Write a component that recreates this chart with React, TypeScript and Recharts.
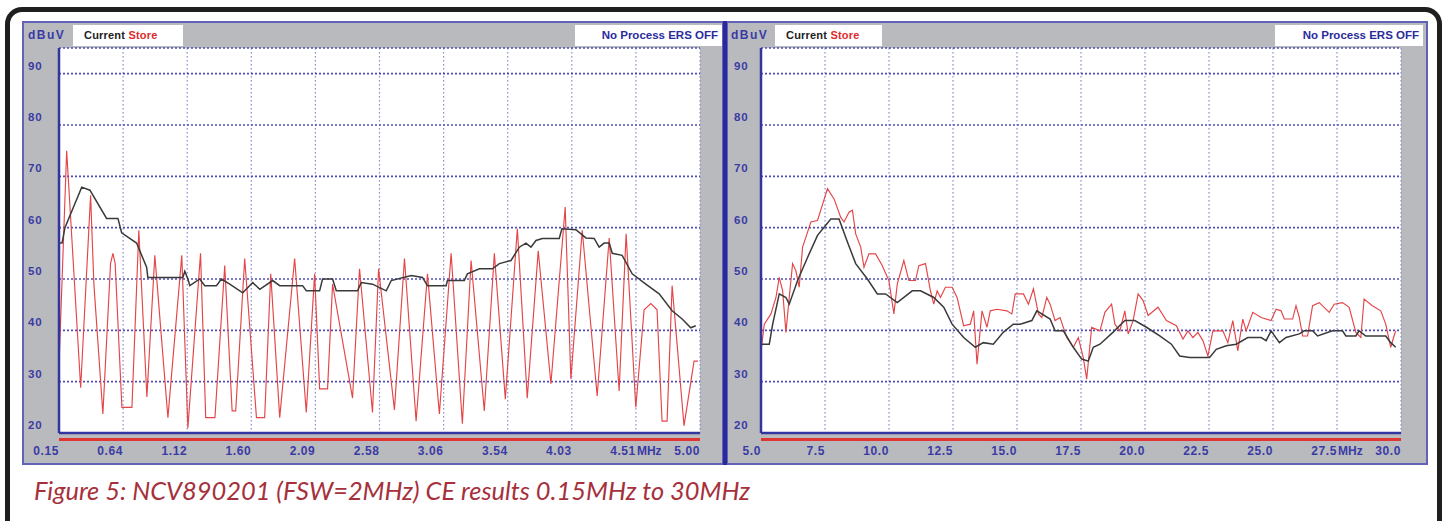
import React from "react";
import { LineChart, Line, XAxis, YAxis, CartesianGrid } from "recharts";

// frequency in MHz, level in dBuV
const leftStore: [number, number][] = [
  [0.15, 33], [0.208, 75], [0.314, 28.8], [0.389, 66.3], [0.414, 49], [0.482, 23.7], [0.54, 53], [0.558, 55],
  [0.575, 53], [0.626, 25], [0.702, 25],
  [0.754, 59.5], [0.815, 27], [0.875, 54.6], [0.974, 23], [1.079, 54.6], [1.125, 21], [1.221, 55], [1.26, 23],
  [1.33, 23], [1.404, 52.6], [1.46, 24.3], [1.487, 24.3], [1.555, 54], [1.644, 23], [1.706, 23], [1.752, 51], [1.82, 23],
  [1.933, 54], [2.021, 24], [2.084, 51], [2.122, 28.6], [2.182, 28.6], [2.22, 49], [2.371, 26.8], [2.424, 52],
  [2.522, 24], [2.568, 52], [2.688, 24.5], [2.764, 54], [2.852, 22.3], [2.938, 51], [3.028, 23.7], [3.117, 55],
  [3.202, 21.8], [3.268, 53.6], [3.368, 24.3], [3.444, 55], [3.527, 26.6], [3.618, 59.8], [3.693, 26.8],
  [3.776, 55.5], [3.872, 29.6], [3.98, 64], [4.023, 30.5], [4.109, 59.5], [4.222, 27.2], [4.313, 58],
  [4.388, 28.2], [4.441, 58.8], [4.514, 25], [4.577, 44], [4.628, 45.2], [4.675, 44], [4.713, 22.3],
  [4.751, 22.3], [4.789, 48.7], [4.879, 21.4], [4.955, 34], [4.985, 34],
];

const leftCurrent: [number, number][] = [
  [0.15, 57], [0.173, 57], [0.195, 60], [0.322, 67.9], [0.384, 67.3], [0.51, 61.8], [0.596, 61.8], [0.624, 59],
  [0.737, 57], [0.813, 52.3], [0.822, 50.3], [1.087, 50.3], [1.102, 51.5], [1.125, 50], [1.14, 48.7], [1.215, 50],
  [1.253, 48.7], [1.341, 48.7], [1.379, 50], [1.442, 49], [1.54, 47.3], [1.616, 49.3], [1.669, 48], [1.767, 49.7],
  [1.82, 48.7], [1.993, 48.7], [2.021, 47.7], [2.122, 47.7], [2.144, 50], [2.22, 50], [2.248, 47.7], [2.409, 47.7],
  [2.437, 49.3], [2.522, 49], [2.626, 47.7], [2.664, 49.7], [2.815, 50.7], [2.9, 50.3], [2.938, 48.7], [3.079, 48.7],
  [3.089, 49.7], [3.217, 49.7], [3.24, 51], [3.331, 52], [3.429, 52], [3.482, 53], [3.57, 53.6], [3.633, 56.2],
  [3.683, 57], [3.721, 56.2], [3.759, 57.5], [3.807, 57.9], [3.935, 57.9], [3.955, 59.8], [4.061, 59.6],
  [4.137, 58], [4.199, 57.9], [4.237, 56.2], [4.275, 57], [4.313, 57], [4.336, 55], [4.411, 54.6], [4.487, 51],
  [4.59, 49], [4.691, 47.1], [4.789, 43.8], [4.865, 42.2], [4.93, 40.5], [4.968, 40.9],
];

const rightStore: [number, number][] = [
  [5.0, 36], [5.129, 41.2], [5.389, 43.2], [5.584, 46.4], [5.713, 50.3], [5.845, 47.7], [5.974, 39.6], [6.102, 46.4],
  [6.234, 53], [6.363, 51.6], [6.491, 48.4], [6.624, 56.2], [6.752, 58.1], [6.947, 61.1], [7.208, 61.4], [7.597, 67.6],
  [7.854, 65.6], [8.115, 62], [8.244, 61.1], [8.438, 63], [8.571, 63.4], [8.699, 58.8], [8.894, 56.2], [9.023, 52.3],
  [9.217, 54.9], [9.478, 54.9], [9.739, 52.6], [9.996, 49.7], [10.191, 43.2], [10.323, 49], [10.58, 53.6],
  [10.775, 49.7], [11.036, 49.7], [11.164, 52.6], [11.425, 53], [11.62, 47.7], [11.748, 45.1], [11.881, 47.7],
  [12.009, 46.4], [12.204, 48.4], [12.465, 48.4], [12.659, 46.4], [12.916, 40.9], [13.177, 41.2], [13.306, 43.8],
  [13.438, 33.4], [13.633, 43.8], [13.828, 40.6], [13.956, 43.8], [14.217, 44.1], [14.607, 43.8], [14.801, 43.2],
  [14.93, 47.1], [15.253, 47.1], [15.448, 45.1], [15.642, 48.1], [15.837, 43.2], [15.969, 42.5], [16.164, 46.4],
  [16.293, 45.1], [16.487, 41.9], [16.682, 42.5], [16.943, 38.6], [17.2, 36.7], [17.395, 38.6], [17.59, 34.7],
  [17.722, 30.5], [17.917, 40.6], [18.24, 39.9], [18.434, 43.5], [18.695, 45.1], [18.824, 41.2], [19.018, 39.9],
  [19.213, 43.8], [19.342, 39.3], [19.536, 41.9], [19.731, 47.1], [19.926, 45.8], [20.121, 42.9], [20.51, 44.5],
  [20.837, 41.9], [21.226, 40.9], [21.483, 38.3], [21.678, 39.9], [21.873, 38.6], [22.067, 39.6], [22.262, 38],
  [22.457, 35], [22.652, 39.9], [23.041, 39.9], [23.236, 37.6], [23.43, 41.9], [23.625, 36], [23.82, 42.2],
  [23.952, 39.9], [24.209, 43.5], [24.536, 42.5], [24.926, 41.9], [25.12, 44.1], [25.315, 43.8], [25.444, 42.2],
  [25.767, 42.2], [25.899, 44.8], [26.028, 42.5], [26.156, 38.9], [26.351, 38.9], [26.546, 44.8], [26.807, 45.4],
  [27.196, 43.5], [27.391, 45.1], [27.714, 45.4], [27.975, 44.5], [28.236, 39.6], [28.431, 38.6], [28.559, 46.1],
  [28.882, 44.8], [29.21, 43.8], [29.404, 41.2], [29.599, 36.7], [29.728, 38.9], [29.794, 39.9],
];

const rightCurrent: [number, number][] = [
  [5.0, 37.3], [5.323, 37.3], [5.456, 41.2], [5.713, 47.1], [5.974, 46.4], [6.102, 45.1], [6.429, 49.7],
  [6.818, 54.2], [7.208, 58.5], [7.726, 61.7], [8.049, 61.7], [8.376, 57.2], [8.699, 53], [9.155, 50],
  [9.544, 47.1], [9.868, 47.1], [10.323, 45.4], [10.907, 47.7], [11.23, 47.7], [11.748, 46.4], [12.138, 44.5],
  [12.465, 41.2], [12.916, 38.6], [13.372, 36.7], [13.684, 37.6], [14.074, 37.3], [14.463, 39.6], [14.853, 41.2],
  [15.124, 41.2], [15.58, 41.9], [15.774, 43.8], [16.293, 42.2], [16.487, 39.9], [16.811, 39.9], [17.2, 36.7],
  [17.527, 34.4], [17.785, 34], [17.979, 36.7], [18.24, 37.3], [18.746, 39.6], [19.213, 41.9], [19.602, 41.9],
  [20.058, 40.6], [20.576, 38.9], [21.031, 37.3], [21.355, 35], [21.744, 34.7], [22.523, 34.7], [22.784, 36.3],
  [23.173, 37], [23.563, 37.3], [24.014, 38.6], [24.536, 38.6], [24.731, 38], [24.926, 39.9], [25.249, 37.6],
  [25.51, 38.6], [26.028, 39.3], [26.223, 39.9], [26.546, 39.9], [26.741, 38.9], [27.325, 39.9], [27.714, 39.9],
  [27.847, 38.9], [28.236, 38.9], [28.364, 39.9], [28.625, 38.9], [29.404, 38.9], [29.599, 37.6], [29.794, 36.7],
];

const leftTicks = [0.15, 0.635, 1.12, 1.605, 2.09, 2.575, 3.06, 3.545, 4.03, 4.515, 5.0];
const leftTickLabels = ["0.15", "0.64", "1.12", "1.60", "2.09", "2.58", "3.06", "3.54", "4.03", "4.51", "5.00"];
const rightTicks = [5, 7.5, 10, 12.5, 15, 17.5, 20, 22.5, 25, 27.5, 30];
const rightTickLabels = ["5.0", "7.5", "10.0", "12.5", "15.0", "17.5", "20.0", "22.5", "25.0", "27.5", "30.0"];
const levelTicks = [20, 30, 40, 50, 60, 70, 80, 90];

const unitLabel = "dBuV";
const captionText = "Figure 5: NCV890201 (FSW=2MHz) CE results 0.15MHz to 30MHz";

const toRows = (pts: [number, number][]) => pts.map(([f, v]) => ({ f, v }));

const BLUE = "#34349f";
const LABEL = "#3b3ba6";
const GRAY = "#b9babd";
const RED = "#e44548";
const labelFont = "'Liberation Sans', Arial, sans-serif";

function Panel({ left, width, domain, ticks, tickLabels, store, current, yLabelX, yAxisW, rightM }: any) {
  const xTick = (p: any) => {
    const i = ticks.indexOf(p.payload.value);
    const label = tickLabels[i];
    return (
      <g>
        <text x={p.x} y={p.y + 22} textAnchor="end" fontSize={12} fontWeight={700} fill={LABEL}
          fontFamily={labelFont} letterSpacing={0.6}>{label}</text>
        {i === ticks.length - 2 && (
          <text x={p.x + 1} y={p.y + 22} textAnchor="start" fontSize={12} fontWeight={700} fill={LABEL}
            fontFamily={labelFont}>MHz</text>
        )}
      </g>
    );
  };
  const yTick = (p: any) => (
    <text x={yLabelX} y={p.y - 8} dominantBaseline="central" fontSize={11.5} fontWeight={700} fill={LABEL}
      fontFamily={labelFont} letterSpacing={0.8}>{p.payload.value}</text>
  );
  return (
    <div style={{ position: "absolute", left, top: 21 }}>
      <LineChart width={width} height={443} margin={{ top: 27, right: rightM, bottom: 0, left: 0 }}>
        <CartesianGrid horizontal={false} stroke="#8a8ad0" strokeDasharray="1.5 2.5" strokeWidth={1.2} />
        <CartesianGrid vertical={false} stroke="#4d4db8" strokeDasharray="2 2" strokeWidth={1.6} />
        <XAxis dataKey="f" type="number" domain={domain} ticks={ticks} tick={xTick} tickLine={false}
          tickSize={0} tickMargin={0} height={31} allowDataOverflow
          axisLine={{ stroke: BLUE, strokeWidth: 2.5 }} />
        <XAxis xAxisId="top" orientation="top" type="number" domain={domain} height={0} tick={false}
          tickLine={false} axisLine={{ stroke: BLUE, strokeWidth: 2.5 }} />
        <YAxis type="number" domain={[20, 95]} ticks={levelTicks} tick={yTick} tickLine={false} width={yAxisW}
          allowDataOverflow axisLine={{ stroke: BLUE, strokeWidth: 2.5 }} />
        <YAxis yAxisId="right" orientation="right" type="number" domain={[20, 95]} width={0} tick={false}
          tickLine={false} axisLine={{ stroke: BLUE, strokeWidth: 2.5 }} />
        <Line data={toRows(store)} dataKey="v" type="linear" stroke={RED} strokeWidth={1.15} dot={false}
          isAnimationActive={false} />
        <Line data={toRows(current)} dataKey="v" type="linear" stroke="#3a3a3a" strokeWidth={1.5} dot={false}
          isAnimationActive={false} />
      </LineChart>
    </div>
  );
}

function Header({ left, boxLeft, boxW, npLeft, npW }: any) {
  const txt: React.CSSProperties = { fontFamily: labelFont, fontWeight: 700, fontSize: 11 };
  return (
    <>
      <div style={{ ...txt, fontSize: 12, letterSpacing: 1.5, position: "absolute", left, top: 28, color: LABEL }}>
        {unitLabel}
      </div>
      <div style={{ position: "absolute", left: boxLeft, top: 25, width: boxW, height: 21, background: "#fff" }}>
        <span style={{ ...txt, position: "absolute", left: 11, top: 4, letterSpacing: 0.2 }}>
          <span style={{ color: "#222" }}>Current </span>
          <span style={{ color: "#e02a2a" }}>Store</span>
        </span>
      </div>
      <div style={{ position: "absolute", left: npLeft, top: 25, width: npW, height: 21, background: "#fff" }}>
        <span style={{ ...txt, fontSize: 11.5, position: "absolute", right: 4, top: 4, color: "#2b2b9c" }}>
          No Process ERS OFF
        </span>
      </div>
    </>
  );
}

export default function App() {
  return (
    <div style={{ position: "relative", width: 1448, height: 521, overflow: "hidden", background: "#fff" }}>
      <style>{`body{margin:0}`}</style>
      <div style={{ position: "absolute", left: 5, top: 7, width: 1437, height: 540, boxSizing: "border-box",
        border: "5px solid #1f1f1f", borderRadius: 17 }} />
      {/* panels */}
      <div style={{ position: "absolute", left: 22, top: 21, width: 702, height: 444, boxSizing: "border-box",
        background: GRAY, border: "2px solid #6262b8" }} />
      <div style={{ position: "absolute", left: 726, top: 21, width: 702, height: 444, boxSizing: "border-box",
        background: GRAY, border: "2px solid #6262b8" }} />
      <div style={{ position: "absolute", left: 723, top: 21, width: 4, height: 444, background: "#2a2a9a" }} />
      <Header left={28} boxLeft={73} boxW={110} npLeft={575} npW={147} />
      <Header left={731} boxLeft={775} boxW={107} npLeft={1275} npW={148} />
      {/* plot backgrounds */}
      <div style={{ position: "absolute", left: 59, top: 48, width: 641, height: 385, background: "#fff" }} />
      <div style={{ position: "absolute", left: 761, top: 48, width: 640, height: 385, background: "#fff" }} />
      <div style={{ position: "absolute", left: 59, top: 438, width: 641, height: 2.5, background: "#e03535" }} />
      <div style={{ position: "absolute", left: 761, top: 438, width: 640, height: 2.5, background: "#e03535" }} />
      <Panel left={22} width={701} domain={[0.15, 5.0]} ticks={leftTicks} tickLabels={leftTickLabels}
        store={leftStore} current={leftCurrent} yLabelX={6} yAxisW={37} rightM={23} />
      <Panel left={727} width={700} domain={[5, 30]} ticks={rightTicks} tickLabels={rightTickLabels}
        store={rightStore} current={rightCurrent} yLabelX={7} yAxisW={34} rightM={26} />
      <svg style={{ position: "absolute", left: 0, top: 470 }} width={800} height={45}>
        <text x={34} y={30} fontSize={25} fontStyle="italic" fill="#a6303b" fontFamily="Lato, 'Open Sans', sans-serif"
          textLength={716} lengthAdjust="spacingAndGlyphs">{captionText}</text>
      </svg>
    </div>
  );
}
